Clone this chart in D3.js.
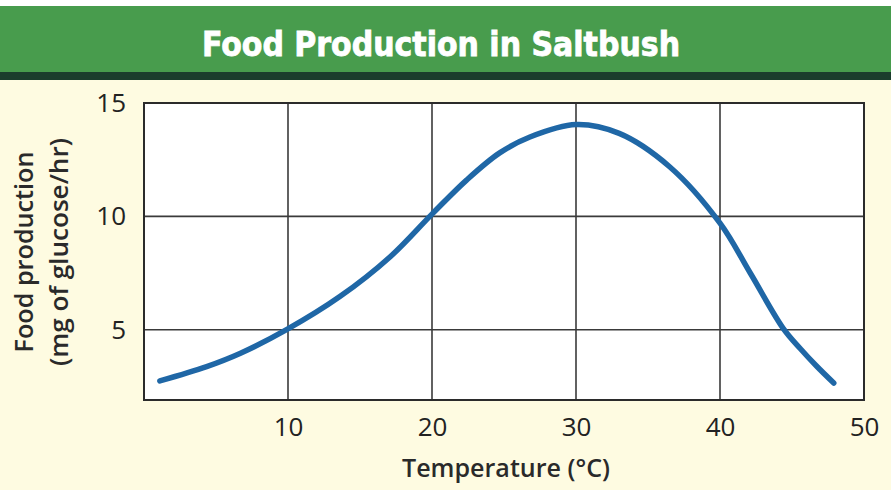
<!DOCTYPE html>
<html>
<head>
<meta charset="utf-8">
<script src="https://cdn.jsdelivr.net/npm/d3@7"></script>
<style>
  body { margin: 0; background: #fefbe1; }
  svg { display: block; }
</style>
</head>
<body>
<div id="chart"></div>
<script>
  // temperature (°C) vs food production (mg of glucose/hr)
  var temps = [1.1, 4.35, 6.7, 9.9, 13.6, 17.1, 20.0, 22.4, 24.7, 26.8, 30.0, 33.0, 36.5, 40.0, 42.1, 44.4, 45.6, 46.7, 47.9];
  var production = [2.74, 3.37, 3.96, 5.0, 6.46, 8.22, 10.1, 11.6, 12.8, 13.5, 14.05, 13.66, 12.19, 9.7, 7.5, 5.05, 4.15, 3.4, 2.65];

  var xTicks = [10, 20, 30, 40, 50];
  var yTicks = [5, 10, 15];

  var title = "Food Production in Saltbush";
  var xLabel = "Temperature (°C)";
  var yLabel = ["Food production", "(mg of glucose/hr)"];

  var outerWidth = 891,
      outerHeight = 490,
      margin = { top: 103, right: 27, bottom: 90, left: 144 },
      width = outerWidth - margin.left - margin.right,
      height = outerHeight - margin.top - margin.bottom;

  var svg = d3.select("#chart").append("svg")
      .attr("width", outerWidth)
      .attr("height", outerHeight);

  // background + header band
  svg.append("rect")
      .attr("width", outerWidth).attr("height", outerHeight)
      .attr("fill", "#fefbe1");
  svg.append("rect")
      .attr("width", outerWidth).attr("height", 7)
      .attr("fill", "#ffffff");
  svg.append("rect")
      .attr("y", 6).attr("width", outerWidth).attr("height", 66)
      .attr("fill", "#489c4d");
  svg.append("rect")
      .attr("y", 72).attr("width", outerWidth).attr("height", 8)
      .attr("fill", "#1b3d2c");

  svg.append("text")
      .attr("x", 441)
      .attr("y", 56)
      .attr("text-anchor", "middle")
      .attr("font-family", "'DejaVu Sans Condensed', 'DejaVu Sans'")
      .attr("font-weight", "bold")
      .attr("font-size", "34px")
      .attr("textLength", 478)
      .attr("lengthAdjust", "spacingAndGlyphs")
      .attr("fill", "#ffffff")
      .attr("stroke", "#ffffff")
      .attr("stroke-width", 0.8)
      .text(title);

  var x = d3.scaleLinear().domain([0, 50]).range([0, width]);
  var y = d3.scaleLinear().domain([1.9, 15]).range([height, 0]);

  var g = svg.append("g")
      .attr("transform", "translate(" + margin.left + "," + margin.top + ")");

  g.append("rect")
      .attr("width", width).attr("height", height)
      .attr("fill", "#ffffff");

  // grid
  g.append("g")
      .selectAll("line")
      .data(xTicks.slice(0, -1))
    .enter().append("line")
      .attr("x1", d => x(d)).attr("x2", d => x(d))
      .attr("y1", 0).attr("y2", height)
      .attr("stroke", "#3a3a3a")
      .attr("stroke-width", 1.6);

  g.append("g")
      .selectAll("line")
      .data(yTicks.slice(0, -1))
    .enter().append("line")
      .attr("x1", 0).attr("x2", width)
      .attr("y1", d => y(d)).attr("y2", d => y(d))
      .attr("stroke", "#3a3a3a")
      .attr("stroke-width", 1.6);

  g.append("rect")
      .attr("width", width).attr("height", height)
      .attr("fill", "none")
      .attr("stroke", "#2b2b2b")
      .attr("stroke-width", 2);

  // curve
  var line = d3.line()
      .x((d, i) => x(temps[i]))
      .y(d => y(d))
      .curve(d3.curveCatmullRom);

  g.append("path")
      .datum(production)
      .attr("d", line)
      .attr("fill", "none")
      .attr("stroke", "#1f67a6")
      .attr("stroke-width", 5.5)
      .attr("stroke-linecap", "round");

  // tick labels
  var xAxis = d3.axisBottom(x).tickValues(xTicks).tickSize(0).tickPadding(18);
  g.append("g")
      .attr("transform", "translate(0," + height + ")")
      .call(xAxis)
      .call(s => s.select(".domain").remove())
      .selectAll("text")
      .attr("font-family", "Open Sans")
      .attr("font-size", "26px")
      .attr("fill", "#222");

  var yAxis = d3.axisLeft(y).tickValues(yTicks).tickSize(0).tickPadding(18);
  g.append("g")
      .call(yAxis)
      .call(s => s.select(".domain").remove())
      .selectAll("text")
      .attr("font-family", "Open Sans")
      .attr("font-size", "26px")
      .attr("fill", "#222");

  svg.append("text")
      .attr("x", 506)
      .attr("y", 477)
      .attr("text-anchor", "middle")
      .attr("font-family", "Open Sans")
      .attr("font-weight", 600)
      .attr("font-size", "26px")
      .attr("textLength", 208)
      .attr("lengthAdjust", "spacingAndGlyphs")
      .attr("fill", "#2a2a2a")
      .text(xLabel);

  var yLabelLengths = [201, 228];
  svg.append("g")
      .attr("transform", "translate(0,252) rotate(-90)")
      .selectAll("text")
      .data(yLabel)
    .enter().append("text")
      .attr("x", 0)
      .attr("y", (d, i) => 33 + i * 35)
      .attr("text-anchor", "middle")
      .attr("font-family", "Open Sans")
      .attr("font-weight", 600)
      .attr("font-size", "25px")
      .attr("textLength", (d, i) => yLabelLengths[i])
      .attr("lengthAdjust", "spacingAndGlyphs")
      .attr("fill", "#2a2a2a")
      .text(d => d);
</script>
</body>
</html>
